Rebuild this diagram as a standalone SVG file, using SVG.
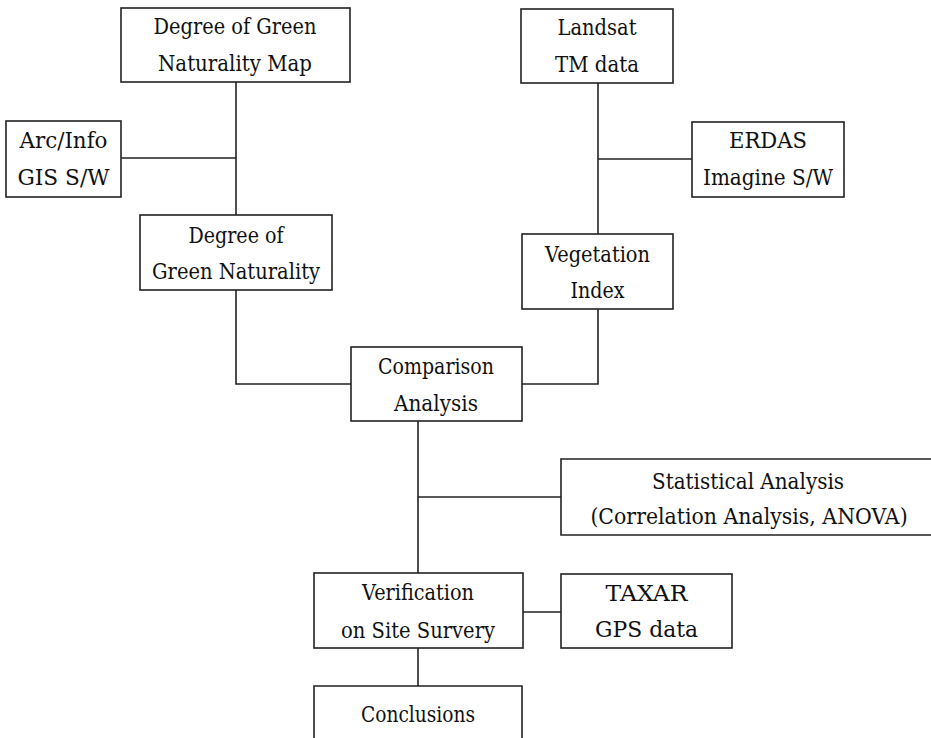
<svg xmlns="http://www.w3.org/2000/svg" width="931" height="738" viewBox="0 0 931 738">
<style>
.box{fill:#fff;stroke:#222;stroke-width:1.6}
.c{fill:none;stroke:#222;stroke-width:1.6}
.t text{font-size:22.5px;fill:#111;text-anchor:middle}
</style>
<rect width="931" height="738" fill="#fff"/>
<g id="connectors">
<polyline class="c" points="236,82 236,215"/>
<polyline class="c" points="121,158 236,158"/>
<polyline class="c" points="236,290 236,384 351,384"/>
<polyline class="c" points="598,83 598,234"/>
<polyline class="c" points="598,159 692,159"/>
<polyline class="c" points="598,309 598,384 522,384"/>
<polyline class="c" points="418,421 418,573"/>
<polyline class="c" points="418,497 561,497"/>
<polyline class="c" points="523,612 561,612"/>
<polyline class="c" points="418,648 418,686"/>
</g>
<g class="t" font-family="'DejaVu Serif', serif">
<g id="map">
<rect class="box" x="121" y="8" width="229" height="74"/>
<text x="235" y="34" textLength="163" lengthAdjust="spacingAndGlyphs">Degree of Green</text>
<text x="235" y="71" textLength="154" lengthAdjust="spacingAndGlyphs">Naturality Map</text>
</g>
<g id="arcinfo">
<rect class="box" x="6" y="121" width="115" height="76"/>
<text x="63.5" y="148" textLength="88" lengthAdjust="spacingAndGlyphs">Arc/Info</text>
<text x="63.5" y="185" textLength="92" lengthAdjust="spacingAndGlyphs">GIS S/W</text>
</g>
<g id="dgn">
<rect class="box" x="140" y="215" width="192" height="75"/>
<text x="236" y="243" textLength="95" lengthAdjust="spacingAndGlyphs">Degree of</text>
<text x="236" y="279" textLength="168" lengthAdjust="spacingAndGlyphs">Green Naturality</text>
</g>
<g id="landsat">
<rect class="box" x="521" y="9" width="152" height="74"/>
<text x="597" y="35" textLength="79" lengthAdjust="spacingAndGlyphs">Landsat</text>
<text x="597" y="72" textLength="84" lengthAdjust="spacingAndGlyphs">TM data</text>
</g>
<g id="erdas">
<rect class="box" x="692" y="122" width="152" height="75"/>
<text x="768" y="148" textLength="78" lengthAdjust="spacingAndGlyphs">ERDAS</text>
<text x="768" y="185" textLength="130" lengthAdjust="spacingAndGlyphs">Imagine S/W</text>
</g>
<g id="vegetation">
<rect class="box" x="522" y="234" width="151" height="75"/>
<text x="597.5" y="262" textLength="105" lengthAdjust="spacingAndGlyphs">Vegetation</text>
<text x="597.5" y="298" textLength="54" lengthAdjust="spacingAndGlyphs">Index</text>
</g>
<g id="comparison">
<rect class="box" x="351" y="347" width="171" height="74"/>
<text x="436" y="374" textLength="116" lengthAdjust="spacingAndGlyphs">Comparison</text>
<text x="436" y="411" textLength="84" lengthAdjust="spacingAndGlyphs">Analysis</text>
</g>
<g id="statistical">
<path class="box" d="M931,459 H561 V535 H931"/>
<text x="748" y="489" textLength="192" lengthAdjust="spacingAndGlyphs">Statistical Analysis</text>
<text transform="translate(749,524) scale(0.91,1)" x="0" y="0">(Correlation Analysis, ANOVA)</text>
</g>
<g id="verification">
<rect class="box" x="314" y="573" width="209" height="75"/>
<text x="418" y="600" textLength="112" lengthAdjust="spacingAndGlyphs">Verification</text>
<text x="418" y="638" textLength="154" lengthAdjust="spacingAndGlyphs">on Site Survery</text>
</g>
<g id="taxar">
<rect class="box" x="561" y="574" width="171" height="74"/>
<text x="646.5" y="601" textLength="82" lengthAdjust="spacingAndGlyphs">TAXAR</text>
<text x="646.5" y="637" textLength="103" lengthAdjust="spacingAndGlyphs">GPS data</text>
</g>
<g id="conclusions">
<path class="box" d="M314,738 V686 H522 V738"/>
<text x="418" y="722" textLength="114" lengthAdjust="spacingAndGlyphs">Conclusions</text>
</g>
</g>
</svg>
